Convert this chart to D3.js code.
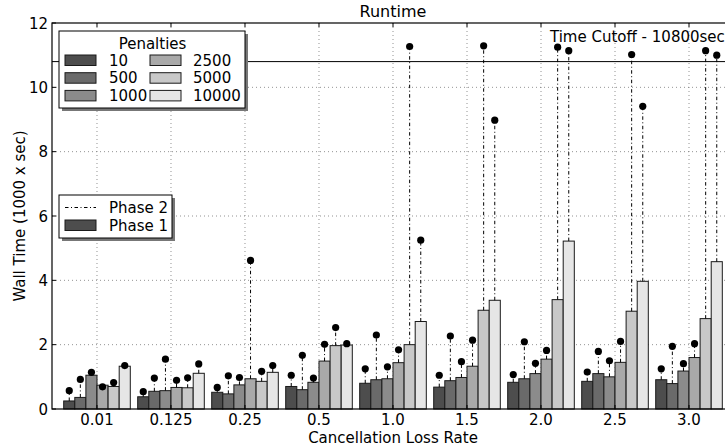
<!DOCTYPE html>
<html><head><meta charset="utf-8">
<script src="https://cdn.jsdelivr.net/npm/d3@7"></script>
<style>
body{margin:0;background:#fff;}
svg{display:block;font-family:"DejaVu Sans",sans-serif;}
</style></head>
<body><svg id="c" width="725" height="447"></svg>
<script>
// ---- data ----
const categories = ["0.01","0.125","0.25","0.5","1.0","1.5","2.0","2.5","3.0"];
const penalties = ["10","500","1000","2500","5000","10000"];
const penaltyColors = ["#4d4d4d","#6a6a6a","#8b8b8b","#a9a9a9","#c8c8c8","#e6e6e6"];
// Phase 1 wall time (1000 x sec), one array per penalty, indexed by category
const phase1 = {
  "10":    [0.25,0.38,0.52,0.70,0.80,0.68,0.83,0.86,0.91],
  "500":   [0.36,0.55,0.47,0.60,0.91,0.88,0.94,1.10,0.79],
  "1000":  [1.05,0.57,0.75,0.83,0.94,0.98,1.10,1.00,1.18],
  "2500":  [0.74,0.67,0.94,1.49,1.44,1.33,1.55,1.45,1.60],
  "5000":  [0.70,0.66,0.86,1.97,2.00,3.07,3.40,3.04,2.81],
  "10000": [1.33,1.11,1.14,1.99,2.72,3.38,5.22,3.97,4.58]
};
// Total (phase 1 + phase 2) wall time
const total = {
  "10":    [0.57,0.54,0.67,1.05,1.25,1.05,1.07,1.15,1.25],
  "500":   [0.92,0.96,1.03,1.67,2.30,2.27,2.09,1.79,1.95],
  "1000":  [1.14,1.55,0.98,0.96,1.31,1.47,1.42,1.50,1.41],
  "2500":  [0.69,0.89,4.62,2.01,1.84,2.14,1.82,2.10,2.03],
  "5000":  [0.82,0.97,1.17,2.53,11.27,11.29,11.25,11.02,11.14],
  "10000": [1.35,1.40,1.35,2.03,5.25,8.98,11.14,9.41,11.00]
};
const yTicks = [0,2,4,6,8,10,12];
const cutoff = 10.8;
const cutoffLabel = "Time Cutoff - 10800sec";
const title = "Runtime";
const xLabel = "Cancellation Loss Rate";
const yLabel = "Wall Time (1000 x sec)";
const legendTitle = "Penalties";
const phaseLabels = ["Phase 2","Phase 1"];

// ---- layout ----
const svg = d3.select("#c");
const L = 52, R = 734, T = 23, B = 409;
const x = d3.scaleLinear().domain([-0.608, categories.length - 1 + 0.608]).range([L, R]);
const y = d3.scaleLinear().domain([0, 12]).range([B, T]);
const barW = 0.15;
const off = k => (k - 2.5) * barW;

// grid
const g = svg.append("g");
g.selectAll(".gy").data(yTicks.filter(t => t > 0 && t < 12)).join("line")
  .attr("x1", L).attr("x2", R).attr("y1", d => y(d)).attr("y2", d => y(d))
  .attr("stroke", "#777").attr("stroke-width", 0.8).attr("stroke-dasharray", "1,3");
g.selectAll(".gx").data(categories).join("line")
  .attr("x1", (d, i) => x(i)).attr("x2", (d, i) => x(i)).attr("y1", T).attr("y2", B)
  .attr("stroke", "#777").attr("stroke-width", 0.8).attr("stroke-dasharray", "1,3");

// bars
penalties.forEach((p, k) => {
  svg.append("g").selectAll("rect").data(phase1[p]).join("rect")
    .attr("x", (d, i) => x(i + off(k) - barW / 2))
    .attr("width", x(barW) - x(0))
    .attr("y", d => y(d)).attr("height", d => y(0) - y(d))
    .attr("fill", penaltyColors[k]).attr("stroke", "#1a1a1a").attr("stroke-width", 1);
});
// phase 2 lines and dots
penalties.forEach((p, k) => {
  const gg = svg.append("g");
  gg.selectAll("line").data(total[p]).join("line")
    .attr("x1", (d, i) => x(i + off(k))).attr("x2", (d, i) => x(i + off(k)))
    .attr("y1", (d, i) => y(phase1[p][i])).attr("y2", d => y(d))
    .attr("stroke", "#000").attr("stroke-width", 1).attr("stroke-dasharray", "3.5,2.5,1,2.5");
  gg.selectAll("circle").data(total[p]).join("circle")
    .attr("cx", (d, i) => x(i + off(k))).attr("cy", d => y(d)).attr("r", 3.6).attr("fill", "#000");
});

// cutoff
svg.append("line").attr("x1", L).attr("x2", R).attr("y1", y(cutoff)).attr("y2", y(cutoff))
  .attr("stroke", "#000").attr("stroke-width", 1);
svg.append("text").attr("x", 550).attr("y", 42).attr("font-size", 15).text(cutoffLabel);

// spines
svg.append("rect").attr("x", L).attr("y", T).attr("width", R - L).attr("height", B - T)
  .attr("fill", "none").attr("stroke", "#000").attr("stroke-width", 1.2);

// ticks (inward)
const tk = svg.append("g").attr("stroke", "#000").attr("stroke-width", 1);
categories.forEach((c, i) => {
  tk.append("line").attr("x1", x(i)).attr("x2", x(i)).attr("y1", B).attr("y2", B - 4);
  tk.append("line").attr("x1", x(i)).attr("x2", x(i)).attr("y1", T).attr("y2", T + 4);
});
yTicks.forEach(t => {
  tk.append("line").attr("x1", L).attr("x2", L + 4).attr("y1", y(t)).attr("y2", y(t));
  tk.append("line").attr("x1", R).attr("x2", R - 4).attr("y1", y(t)).attr("y2", y(t));
});
svg.append("g").selectAll("text").data(categories).join("text")
  .attr("x", (d, i) => x(i)).attr("y", 425).attr("text-anchor", "middle").attr("font-size", 15)
  .text(d => d);
svg.append("g").selectAll("text").data(yTicks).join("text")
  .attr("x", L - 4).attr("y", d => y(d) + 5.5).attr("text-anchor", "end").attr("font-size", 15)
  .text(d => d);

// titles
svg.append("text").attr("x", 393).attr("y", 17).attr("text-anchor", "middle").attr("font-size", 16).text(title);
svg.append("text").attr("x", 393).attr("y", 443).attr("text-anchor", "middle").attr("font-size", 15).text(xLabel);
svg.append("text").attr("transform", "translate(25,216) rotate(-90)").attr("text-anchor", "middle")
  .attr("font-size", 15).text(yLabel);

// legend 1
const lg = svg.append("g");
lg.append("rect").attr("x", 62).attr("y", 34).attr("width", 186).attr("height", 77).attr("fill", "#777");
lg.append("rect").attr("x", 59).attr("y", 31).attr("width", 186).attr("height", 77)
  .attr("fill", "#fff").attr("stroke", "#000").attr("stroke-width", 1);
lg.append("text").attr("x", 152.5).attr("y", 49).attr("text-anchor", "middle").attr("font-size", 15).text(legendTitle);
penalties.forEach((p, k) => {
  const col = Math.floor(k / 3), row = k % 3;
  const hx = col ? 150 : 65, ty = 55 + row * 17.7;
  lg.append("rect").attr("x", hx).attr("y", ty).attr("width", 31).attr("height", 10.5)
    .attr("fill", penaltyColors[k]).attr("stroke", "#1a1a1a").attr("stroke-width", 1);
  lg.append("text").attr("x", col ? 193 : 109).attr("y", ty + 10.5).attr("font-size", 15).text(p);
});

// legend 2
const l2 = svg.append("g");
l2.append("rect").attr("x", 62).attr("y", 198).attr("width", 113).attr("height", 43).attr("fill", "#777");
l2.append("rect").attr("x", 59).attr("y", 195).attr("width", 113).attr("height", 43)
  .attr("fill", "#fff").attr("stroke", "#000").attr("stroke-width", 1);
l2.append("line").attr("x1", 65).attr("x2", 96).attr("y1", 207.5).attr("y2", 207.5)
  .attr("stroke", "#000").attr("stroke-width", 1).attr("stroke-dasharray", "3.5,2.5,1,2.5");
l2.append("text").attr("x", 109).attr("y", 213).attr("font-size", 15).text(phaseLabels[0]);
l2.append("rect").attr("x", 65).attr("y", 220).attr("width", 31).attr("height", 10.5)
  .attr("fill", penaltyColors[0]).attr("stroke", "#1a1a1a").attr("stroke-width", 1);
l2.append("text").attr("x", 109).attr("y", 231).attr("font-size", 15).text(phaseLabels[1]);
</script></body></html>
